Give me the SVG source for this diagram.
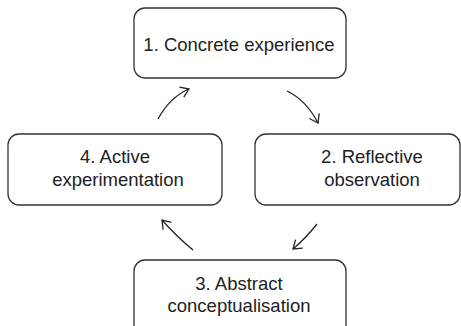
<svg xmlns="http://www.w3.org/2000/svg" width="461" height="326" viewBox="0 0 461 326">
<style>
.box{fill:#fff;stroke:#333;stroke-width:1.3}
.t{font-family:"Liberation Sans",Arial,sans-serif;font-size:18.5px;fill:#222;text-anchor:middle}
.c{fill:none;stroke:#222;stroke-width:1.3}
</style>
<defs>
<marker id="ah" markerWidth="14" markerHeight="14" refX="10" refY="7" orient="auto" markerUnits="userSpaceOnUse">
<path d="M2,1.5 L10,7 L2,12.5" fill="none" stroke="#222" stroke-width="1.3"/>
</marker>
</defs>
<rect width="461" height="326" fill="#fff"/>
<g id="n1"><rect class="box" x="134" y="8" width="212" height="70" rx="11"/><text class="t" x="239" y="51">1. Concrete experience</text></g>
<g id="n2"><rect class="box" x="255" y="134" width="205" height="71" rx="11"/><text class="t" x="372" y="163">2. Reflective</text><text class="t" x="372" y="186">observation</text></g>
<g id="n3"><rect class="box" x="134" y="260" width="212" height="80" rx="11"/><text class="t" x="239" y="290">3. Abstract</text><text class="t" x="239" y="312">conceptualisation</text></g>
<g id="n4"><rect class="box" x="8" y="134" width="214" height="71" rx="11"/><text class="t" x="115" y="163">4. Active</text><text class="t" x="118" y="186">experimentation</text></g>
<g id="connectors">
<path class="c" d="M158,119 Q170,97 189,89" marker-end="url(#ah)"/>
<path class="c" d="M287,91 Q306,100 318,123" marker-end="url(#ah)"/>
<path class="c" d="M317,224 Q306,238 293,249" marker-end="url(#ah)"/>
<path class="c" d="M193,250 Q176,236 162,220" marker-end="url(#ah)"/>
</g>
</svg>
